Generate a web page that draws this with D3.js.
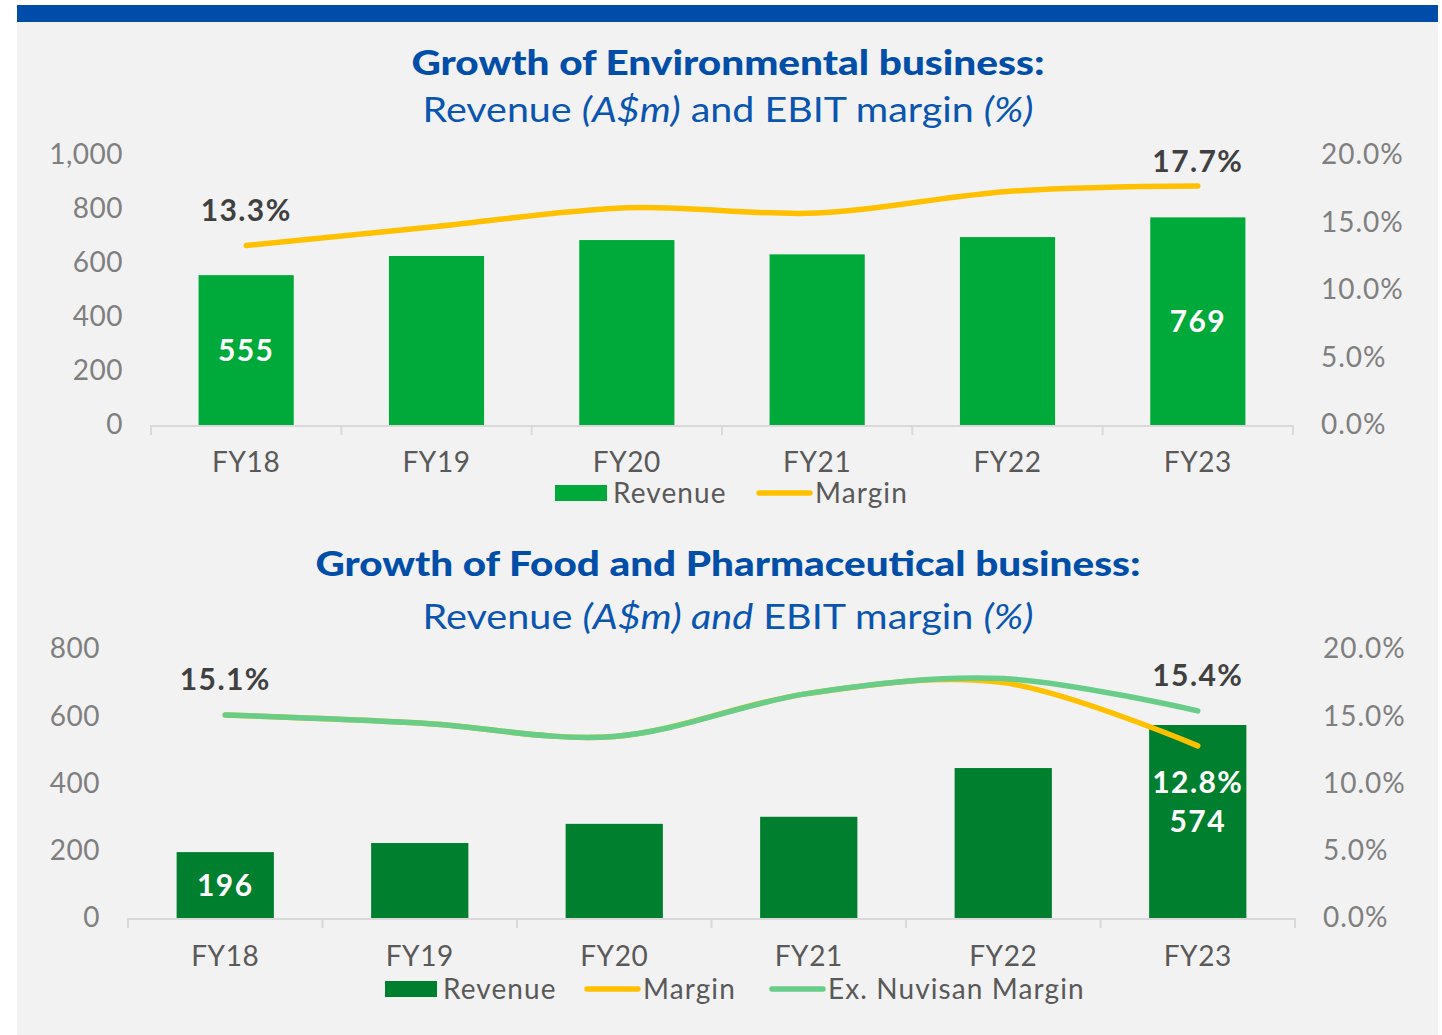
<!DOCTYPE html>
<html>
<head>
<meta charset="utf-8">
<script src="https://cdn.jsdelivr.net/npm/d3@7"></script>
<style>
  body { margin: 0; background: #fff; }
  text { font-family: Lato, "Open Sans", sans-serif; }
</style>
</head>
<body>
<div id="chart"></div>
<script>
// chart values
const years = ["FY18", "FY19", "FY20", "FY21", "FY22", "FY23"];
const envRevenue = [555, 626, 685, 632, 696, 769];
const envMargin = [13.3, 14.7, 16.1, 15.7, 17.3, 17.7];
const foodRevenue = [196, 223, 280, 301, 446, 574];
const foodMargin = [15.1, 14.5, 13.5, 16.7, 17.5, 12.8];
const foodMarginExNuvisan = [15.1, 14.5, 13.5, 16.7, 17.8, 15.4];
const envRevenueTicks = [0, 200, 400, 600, 800, 1000];
const foodRevenueTicks = [0, 200, 400, 600, 800];
const marginTicks = [0, 5, 10, 15, 20];

const W = 1442, H = 1035;
const GOLD = "#FFC000", LIGHT_GREEN = "#68CD88";
const AXIS_GREY = "#7F7F7F", TEXT_GREY = "#595959", LABEL_DARK = "#404040";
const TITLE_BLUE = "#004EA8";

const svg = d3.select("#chart").append("svg")
  .attr("width", W)
  .attr("height", H);

// panel + top band
svg.append("rect").attr("x", 17).attr("y", 5).attr("width", 1421).attr("height", 1030).attr("fill", "#F2F2F2");
svg.append("rect").attr("x", 17).attr("y", 5).attr("width", 1421).attr("height", 17).attr("fill", "#004DA9");

function title(main, parts, yMain, ySub, mainLen, subLen) {
  svg.append("text")
    .attr("x", 728).attr("y", yMain)
    .attr("text-anchor", "middle")
    .attr("font-size", 35).attr("font-weight", 900)
    .attr("fill", TITLE_BLUE)
    .attr("textLength", mainLen).attr("lengthAdjust", "spacingAndGlyphs")
    .text(main);

  const sub = svg.append("text")
    .attr("x", 728).attr("y", ySub)
    .attr("text-anchor", "middle")
    .attr("font-size", 34)
    .attr("fill", "#0A55B0")
    .attr("textLength", subLen).attr("lengthAdjust", "spacingAndGlyphs");
  parts.forEach(p => {
    sub.append("tspan")
      .attr("font-style", p.italic ? "italic" : "normal")
      .text(p.t);
  });
}

function drawChart(cfg) {
  const g = svg.append("g");

  const x = d3.scaleBand().domain(years).range(cfg.xRange).paddingInner(0).paddingOuter(0);
  const y = d3.scaleLinear().domain([0, d3.max(cfg.revTicks)]).range(cfg.yRange);
  const yR = d3.scaleLinear().domain([0, 20]).range(cfg.yRange);
  const barW = x.bandwidth() * 0.5;
  const y0 = cfg.yRange[0];

  // left axis
  g.append("g")
    .attr("transform", `translate(${cfg.leftX},0)`)
    .call(d3.axisLeft(y).tickValues(cfg.revTicks).tickSize(0).tickPadding(0).tickFormat(d3.format(",")))
    .call(a => a.select(".domain").remove())
    .call(a => a.selectAll("text").attr("fill", AXIS_GREY).attr("font-size", 28).attr("font-family", "Lato").attr("letter-spacing", 0.5));

  // right axis
  g.append("g")
    .attr("transform", `translate(${cfg.rightX},0)`)
    .call(d3.axisRight(yR).tickValues(marginTicks).tickSize(0).tickPadding(0).tickFormat(d => d.toFixed(1) + "%"))
    .call(a => a.select(".domain").remove())
    .call(a => a.selectAll("text").attr("fill", AXIS_GREY).attr("font-size", 28).attr("font-family", "Lato").attr("letter-spacing", 1));

  // bars
  g.append("g")
    .selectAll("rect")
    .data(cfg.revenue)
    .join("rect")
      .attr("x", (d, i) => x(years[i]) + (x.bandwidth() - barW) / 2)
      .attr("y", d => y(d))
      .attr("width", barW)
      .attr("height", d => y0 - y(d))
      .attr("fill", cfg.barColor);

  // category axis
  const edges = years.map(d => x(d)).concat([cfg.xRange[1]]);
  g.append("line")
    .attr("x1", cfg.xRange[0]).attr("x2", cfg.xRange[1])
    .attr("y1", y0 + 1).attr("y2", y0 + 1)
    .attr("stroke", "#D9D9D9").attr("stroke-width", 2);
  g.append("g")
    .selectAll("line")
    .data(edges)
    .join("line")
      .attr("x1", d => d).attr("x2", d => d)
      .attr("y1", y0).attr("y2", y0 + 10)
      .attr("stroke", "#D9D9D9").attr("stroke-width", 2);

  g.append("g")
    .attr("transform", `translate(0,${y0})`)
    .call(d3.axisBottom(x).tickSize(0).tickPadding(cfg.xLabelPad))
    .call(a => a.select(".domain").remove())
    .call(a => a.selectAll("text").attr("fill", TEXT_GREY).attr("font-size", 28).attr("font-family", "Lato").attr("letter-spacing", 0.6));

  // margin lines
  const line = d3.line()
    .x((d, i) => x(years[i]) + x.bandwidth() / 2)
    .y(d => yR(d))
    .curve(d3.curveCardinal.tension(0));

  cfg.lines.forEach(l => {
    g.append("path")
      .datum(l.values)
      .attr("d", line)
      .attr("fill", "none")
      .attr("stroke", l.color)
      .attr("stroke-width", 5.5)
      .attr("stroke-linecap", "round");
  });

  // data labels
  cfg.labels.forEach(lb => {
    const i = years.indexOf(lb.year);
    const cx = x(lb.year) + x.bandwidth() / 2;
    let yy;
    if (lb.kind === "bar") {
      const v = cfg.revenue[i];
      yy = (y(v) + y0) / 2 + 11;
    } else {
      yy = yR(lb.values[i]) + lb.dy;
    }
    g.append("text")
      .attr("x", cx).attr("y", yy)
      .attr("text-anchor", "middle")
      .attr("font-size", 30).attr("font-weight", 700)
      .attr("letter-spacing", 1.4)
      .attr("fill", lb.color)
      .text(lb.text);
  });

  // legend
  const lg = g.append("g");
  cfg.legend.forEach(it => {
    if (it.type === "rect") {
      lg.append("rect").attr("x", it.x).attr("y", cfg.legendY - 8).attr("width", 52).attr("height", 16).attr("fill", it.color);
    } else {
      lg.append("line")
        .attr("x1", it.x + 2).attr("x2", it.x + 53)
        .attr("y1", cfg.legendY).attr("y2", cfg.legendY)
        .attr("stroke", it.color).attr("stroke-width", 5.5).attr("stroke-linecap", "round");
    }
    lg.append("text")
      .attr("x", it.x + 58).attr("y", cfg.legendY + 10)
      .attr("font-size", 28).attr("fill", TEXT_GREY)
      .attr("letter-spacing", 1.1)
      .text(it.label);
  });
}

title("Growth of Environmental business:",
  [{t: "Revenue "}, {t: "(A$m)", italic: true}, {t: " and EBIT margin "}, {t: "(%)", italic: true}],
  75, 122, 633, 611);

drawChart({
  xRange: [151, 1293], yRange: [425, 155],
  revTicks: envRevenueTicks, revenue: envRevenue, barColor: "#00AA3A",
  leftX: 123, rightX: 1321, xLabelPad: 27,
  lines: [{values: envMargin, color: GOLD}],
  labels: [
    {kind: "line", year: "FY18", values: envMargin, dy: -24, color: LABEL_DARK, text: "13.3%"},
    {kind: "line", year: "FY23", values: envMargin, dy: -14, color: LABEL_DARK, text: "17.7%"},
    {kind: "bar", year: "FY18", color: "#fff", text: "555"},
    {kind: "bar", year: "FY23", color: "#fff", text: "769"}
  ],
  legendY: 493,
  legend: [
    {type: "rect", x: 555, color: "#00AA3A", label: "Revenue"},
    {type: "line", x: 757, color: GOLD, label: "Margin"}
  ]
});

title("Growth of Food and Pharmaceutical business:",
  [{t: "Revenue "}, {t: "(A$m) and", italic: true}, {t: " EBIT margin "}, {t: "(%)", italic: true}],
  576, 629, 825, 611);

drawChart({
  xRange: [128, 1295], yRange: [918, 649],
  revTicks: foodRevenueTicks, revenue: foodRevenue, barColor: "#00802F",
  leftX: 100, rightX: 1323, xLabelPad: 28,
  lines: [{values: foodMargin, color: GOLD}, {values: foodMarginExNuvisan, color: LIGHT_GREEN}],
  labels: [
    {kind: "line", year: "FY18", values: foodMargin, dy: -25, color: LABEL_DARK, text: "15.1%"},
    {kind: "line", year: "FY23", values: foodMarginExNuvisan, dy: -25, color: LABEL_DARK, text: "15.4%"},
    {kind: "line", year: "FY23", values: foodMargin, dy: 47, color: "#fff", text: "12.8%"},
    {kind: "bar", year: "FY18", color: "#fff", text: "196"},
    {kind: "bar", year: "FY23", color: "#fff", text: "574"}
  ],
  legendY: 989,
  legend: [
    {type: "rect", x: 385, color: "#00802F", label: "Revenue"},
    {type: "line", x: 585, color: GOLD, label: "Margin"},
    {type: "line", x: 770, color: LIGHT_GREEN, label: "Ex. Nuvisan Margin"}
  ]
});
</script>
</body>
</html>
